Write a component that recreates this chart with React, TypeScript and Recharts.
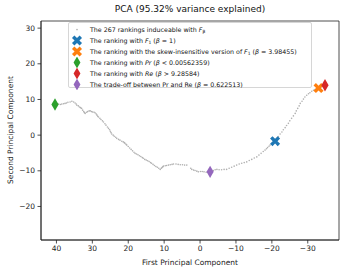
import React from 'react';
import { ScatterChart, Scatter, XAxis, YAxis, ReferenceArea, Label } from 'recharts';

const FONT = '"DejaVu Sans", Verdana, sans-serif';

// the rankings induceable with F_beta
const pc1 = [
  40.4, 39.9, 39.4, 38.9, 38.5, 38.0, 37.6, 37.2, 36.8, 36.2, 35.7, 35.2, 34.8, 34.5, 34.3, 33.9, 33.6, 33.3,
  33.0, 32.7, 32.4, 32.2, 32.0, 31.6, 31.3, 30.9, 30.6, 30.2, 29.9, 29.5, 29.2, 28.9, 28.7, 28.5, 28.3, 27.9,
  27.6, 27.2, 26.9, 26.5, 26.2, 25.8, 25.5, 25.2, 25.0, 24.8, 24.6, 24.2, 23.9, 23.5, 23.2, 22.7, 22.3, 21.8,
  21.4, 21.1, 20.9, 20.6, 20.4, 20.0, 19.6, 19.2, 18.8, 18.4, 18.1, 17.7, 17.3, 16.9, 16.5, 16.1, 15.8, 15.4,
  15.0, 14.6, 14.2, 13.8, 13.5, 13.1, 12.7, 12.3, 11.9, 11.5, 11.1, 10.8, 10.6, 10.4, 10.2, 9.7, 9.3, 8.8,
  8.3, 7.8, 7.4, 6.7, 6.1, 5.5, 4.9, 4.3, 3.7, 2.6, 2.3, 1.8, 1.4, 0.9, 0.5, -0.1, -0.6, -1.1,
  -1.7, -2.2, -2.8, -3.2, -3.7, -4.2, -4.7, -5.3, -6.0, -6.7, -7.4, -8.1, -8.8, -9.5, -10.2, -10.9, -11.6, -12.3,
  -13.0, -13.7, -14.4, -15.1, -15.8, -16.4, -17.0, -17.6, -18.1, -18.5, -18.8, -19.2, -19.5, -19.9, -20.2, -20.6,
  -20.9, -21.3, -21.8, -22.3, -22.8, -23.2, -23.7, -24.1, -24.6, -25.0, -25.5, -26.0, -26.5, -26.8, -27.2, -27.6,
  -27.9, -28.4, -28.8, -29.2, -29.7, -30.2, -30.6, -31.1, -31.6, -32.0, -32.3, -32.6, -33.0, -33.4, -33.9, -34.3,
  -34.8,
];
const pc2 = [
  8.6, 8.7, 8.7, 8.6, 8.7, 8.8, 8.9, 9.0, 9.2, 9.3, 9.5, 9.3, 9.0, 8.7, 8.4, 8.2, 7.9, 7.7,
  7.5, 7.0, 6.6, 6.3, 6.1, 6.4, 6.6, 6.8, 6.8, 6.6, 6.5, 6.4, 6.2, 5.9, 5.6, 5.3, 5.1, 4.7,
  4.4, 4.0, 3.7, 3.2, 2.8, 2.3, 1.9, 1.5, 1.1, 0.7, 0.3, 0.0, -0.3, -0.6, -0.9, -1.2, -1.4, -1.7,
  -1.9, -2.1, -2.3, -2.6, -2.8, -3.2, -3.6, -4.0, -4.4, -4.8, -5.1, -5.3, -5.5, -5.8, -6.0, -6.3, -6.5, -6.8,
  -7.0, -7.2, -7.4, -7.7, -7.9, -8.2, -8.5, -8.8, -9.0, -9.3, -9.6, -9.3, -9.1, -8.9, -8.7, -8.6, -8.5, -8.4,
  -8.3, -8.2, -8.1, -8.1, -8.2, -8.3, -8.3, -8.4, -8.4, -9.3, -9.6, -9.8, -9.9, -10.1, -10.3, -10.2, -10.2, -10.3,
  -10.4, -10.4, -10.3, -10.1, -9.9, -9.7, -9.6, -9.7, -9.7, -9.6, -9.6, -9.3, -9.0, -8.7, -8.4, -8.1, -7.9, -7.7,
  -7.5, -7.1, -6.8, -6.4, -6.1, -5.6, -5.1, -4.6, -4.2, -3.8, -3.5, -3.1, -2.8, -2.5, -2.2, -1.9,
  -1.7, -1.1, -0.4, 0.3, 0.9, 1.5, 2.1, 2.7, 3.3, 4.0, 4.7, 5.4, 6.1, 6.8, 7.5, 8.2,
  8.9, 9.5, 10.1, 10.7, 11.2, 11.6, 11.9, 12.3, 12.6, 12.8, 12.9, 13.0, 13.2, 13.4, 13.6, 13.8,
  14.0,
];

const f1Point = [{ x: -20.9, y: -1.7 }];
const skewPoint = [{ x: -33.0, y: 13.2 }];
const prPoint = [{ x: 40.4, y: 8.6 }];
const rePoint = [{ x: -34.8, y: 14.0 }];
const tradeOffPoint = [{ x: -2.8, y: -10.3 }];

const xTicks = [40, 30, 20, 10, 0, -10, -20, -30];
const yTicks = [-20, -10, 0, 10, 20, 30];

const rankings = pc1.map((x, i) => ({ x, y: pc2[i] }));

const BLUE = '#1f77b4';
const ORANGE = '#ff7f0e';
const GREEN = '#2ca02c';
const RED = '#d62728';
const PURPLE = '#9467bd';
const GREY = '#b0b0b0';

const XPTS = '-1.7,-5.4 1.7,-5.4 1.7,-1.7 5.4,-1.7 5.4,1.7 1.7,1.7 1.7,5.4 -1.7,5.4 -1.7,1.7 -5.4,1.7 -5.4,-1.7 -1.7,-1.7';
const DPTS = '0,-6.2 3.6,0 0,6.2 -3.6,0';

const xMarker = (color: string) => (p: any) => (
  <polygon points={XPTS} fill={color} transform={`translate(${p.cx},${p.cy}) rotate(45)`} />
);
const diamond = (color: string) => (p: any) => (
  <polygon points={DPTS} fill={color} transform={`translate(${p.cx},${p.cy})`} />
);
const dot = (p: any) => <circle cx={p.cx} cy={p.cy} r={0.8} fill={GREY} />;

const fmt = (v: number) => (v < 0 ? '\u2212' + Math.abs(v) : String(v));

const LegendIcon = ({ kind, color }: { kind: string; color: string }) => (
  <svg width={16} height={11} style={{ position: 'absolute', left: 0, top: 0 }}>
    {kind === 'dot' && <circle cx={8} cy={5.5} r={0.85} fill={color} />}
    {kind === 'x' && <polygon points={XPTS} fill={color} transform="translate(8,5.5) rotate(45)" />}
    {kind === 'd' && <polygon points={DPTS} fill={color} transform="translate(8,5.5) scale(0.95)" />}
  </svg>
);

const sub = { fontSize: '70%', verticalAlign: '-0.25em', fontStyle: 'normal' as const };
const legendRows: { kind: string; color: string; label: React.ReactNode }[] = [
  { kind: 'dot', color: GREY, label: <>The 267 rankings induceable with <i>F</i><i style={sub}>β</i></> },
  { kind: 'x', color: BLUE, label: <>The ranking with <i>F</i><span style={sub}>1</span> (<i>β</i> = 1)</> },
  { kind: 'x', color: ORANGE, label: <>The ranking with the skew-insensitive version of <i>F</i><span style={sub}>1</span> (<i>β</i> = 3.98455)</> },
  { kind: 'd', color: GREEN, label: <>The ranking with <i>Pr</i> (<i>β</i> &lt; 0.00562359)</> },
  { kind: 'd', color: RED, label: <>The ranking with <i>Re</i> (<i>β</i> &gt; 9.28584)</> },
  { kind: 'd', color: PURPLE, label: <>The trade-off between Pr and Re (<i>β</i> = 0.622513)</> },
];

const axisText = { fill: '#222', fontSize: 7.5, fontFamily: FONT };

export default function App() {
  return (
    <div style={{ position: 'absolute', left: 0, top: 0, width: 345, height: 272, background: '#fff', fontFamily: FONT }}>
      <div style={{ position: 'absolute', left: 41, width: 298, top: 4, textAlign: 'center', fontSize: 9, color: '#111' }}>
        PCA (95.32% variance explained)
      </div>
      <ScatterChart width={345} height={272} margin={{ top: 21, right: 6, bottom: 0, left: 0 }}>
        <XAxis
          type="number"
          dataKey="x"
          domain={[-38.7, 44.3]}
          allowDataOverflow
          reversed
          ticks={xTicks}
          tickFormatter={fmt}
          height={32}
          tickSize={3.5}
          tickMargin={2.5}
          tick={axisText}
          axisLine={{ stroke: '#222', strokeWidth: 0.8 }}
          tickLine={{ stroke: '#222', strokeWidth: 0.8 }}
        >
          <Label
            content={() => (
              <text x={190} y={265} textAnchor="middle" fontSize={7.5} fontFamily={FONT} fill="#222">
                First Principal Component
              </text>
            )}
          />
        </XAxis>
        <YAxis
          type="number"
          dataKey="y"
          domain={[-29.4, 32]}
          allowDataOverflow
          ticks={yTicks}
          tickFormatter={fmt}
          width={41}
          tickSize={3.5}
          tickMargin={2.5}
          tick={axisText}
          axisLine={{ stroke: '#222', strokeWidth: 0.8 }}
          tickLine={{ stroke: '#222', strokeWidth: 0.8 }}
        >
          <Label
            content={() => (
              <text x={13} y={130} transform="rotate(-90 13 130)" textAnchor="middle" fontSize={7.5} fontFamily={FONT} fill="#222">
                Second Principal Component
              </text>
            )}
          />
        </YAxis>
        <ReferenceArea
          x1={-38.7}
          x2={44.3}
          y1={-29.4}
          y2={32}
          ifOverflow="visible"
          fill="none"
          fillOpacity={0}
          stroke="#222"
          strokeWidth={0.8}
        />
        <Scatter data={rankings} shape={dot} isAnimationActive={false} />
        <Scatter data={f1Point} shape={xMarker(BLUE)} isAnimationActive={false} />
        <Scatter data={skewPoint} shape={xMarker(ORANGE)} isAnimationActive={false} />
        <Scatter data={prPoint} shape={diamond(GREEN)} isAnimationActive={false} />
        <Scatter data={rePoint} shape={diamond(RED)} isAnimationActive={false} />
        <Scatter data={tradeOffPoint} shape={diamond(PURPLE)} isAnimationActive={false} />
      </ScatterChart>
      <div
        style={{
          position: 'absolute',
          left: 68,
          top: 22,
          width: 244,
          height: 66,
          boxSizing: 'border-box',
          border: '1px solid #d6d6d6',
          borderRadius: 2,
          background: 'rgba(255,255,255,0.8)',
        }}
      >
        {legendRows.map((r, i) => (
          <div key={i} style={{ position: 'absolute', left: 0, top: 0.5 + i * 11, height: 11, width: 243 }}>
            <LegendIcon kind={r.kind} color={r.color} />
            <div style={{ position: 'absolute', left: 21, top: 0, lineHeight: '11px', fontSize: 6.3, color: '#111', whiteSpace: 'nowrap' }}>
              {r.label}
            </div>
          </div>
        ))}
      </div>
    </div>
  );
}
